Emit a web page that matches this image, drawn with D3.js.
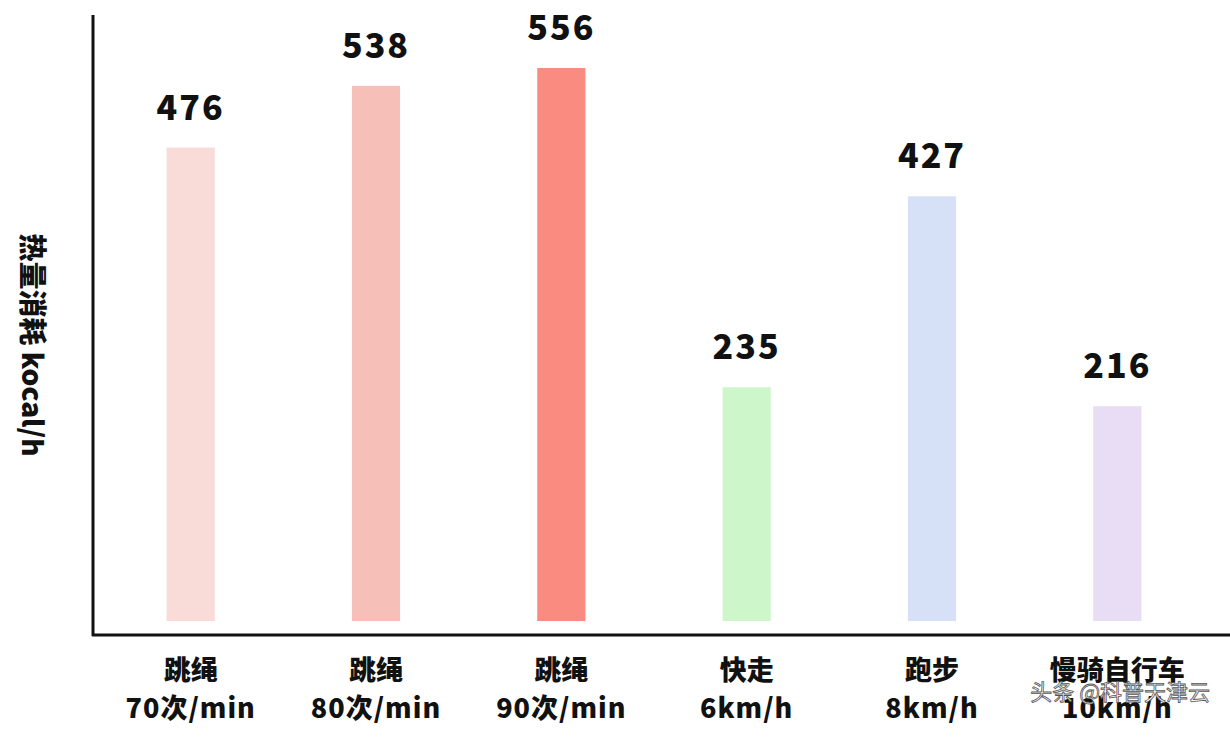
<!DOCTYPE html><html><head><meta charset="utf-8"><script src="https://cdn.jsdelivr.net/npm/d3@7"></script>
<style>body{margin:0;background:#fff}</style></head><body><svg id="c" width="1230" height="738"></svg>
<script>
const line1=["跳绳","跳绳","跳绳","快走","跑步","慢骑自行车"];
const line2=["70次/min","80次/min","90次/min","6km/h","8km/h","10km/h"];
const values=[476,538,556,235,427,216];
const colors=["#f9dcd8","#f6c0b9","#f98b80","#cdf6cb","#d6e1f8","#e8ddf4"];
const svg=d3.select("#c");
const font="'Noto Sans CJK SC',sans-serif";
const x=d3.scaleBand().domain(d3.range(6)).range([98,1210]).paddingInner(0.74).paddingOuter(0.37);
const y=d3.scaleLinear().domain([0,556]).range([621,68]);
svg.selectAll("rect").data(values).join("rect")
 .attr("x",(d,i)=>x(i)).attr("width",x.bandwidth()).attr("y",d=>y(d)).attr("height",d=>621-y(d))
 .attr("fill",(d,i)=>colors[i]);
svg.selectAll(".v").data(values).join("text").attr("class","v")
 .attr("x",(d,i)=>x(i)+x.bandwidth()/2).attr("y",d=>y(d)-28).attr("text-anchor","middle")
 .attr("font-family",font).attr("font-weight","900").attr("font-size",34).attr("letter-spacing",2).attr("fill","#111").text(d=>d);
svg.append("line").attr("x1",93).attr("x2",93).attr("y1",15).attr("y2",636).attr("stroke","#111").attr("stroke-width",3);
svg.append("line").attr("x1",92).attr("x2",1230).attr("y1",635).attr("y2",635).attr("stroke","#111").attr("stroke-width",3);
const g=svg.selectAll(".c").data(line1).join("g");
g.append("text").attr("x",(d,i)=>x(i)+x.bandwidth()/2).attr("y",680).attr("text-anchor","middle")
 .attr("font-family",font).attr("font-weight","900").attr("font-size",27).attr("fill","#111").text(d=>d);
g.append("text").attr("x",(d,i)=>x(i)+x.bandwidth()/2).attr("y",718).attr("text-anchor","middle")
 .attr("font-family",font).attr("font-weight","900").attr("font-size",27).attr("letter-spacing",1).attr("fill","#111").text((d,i)=>line2[i]);
svg.append("text").attr("transform","translate(22,345) rotate(90)").attr("text-anchor","middle")
 .attr("font-family",font).attr("font-weight","900").attr("font-size",28).attr("fill","#111").text("热量消耗 kocal/h");
svg.append("text").attr("x",1210).attr("y",700).attr("text-anchor","end").attr("font-family",font)
 .attr("font-size",22).attr("fill","#fff").attr("stroke","#555").attr("stroke-width",0.8).text("头条 @科普天津云");
</script></body></html>
